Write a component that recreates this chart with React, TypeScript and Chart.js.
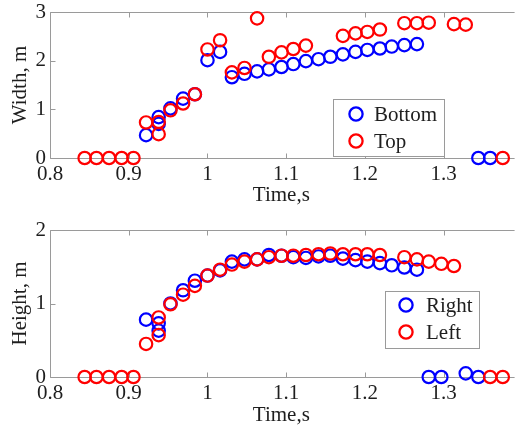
import React, { useEffect, useRef } from "react";
import { Chart, registerables } from "chart.js";
Chart.register(...registerables);

// ---------- data ----------
const xTicks = [0.8, 0.9, 1, 1.1, 1.2, 1.3];
const widthTicks = [0, 1, 2, 3];
const heightTicks = [0, 1, 2];

// Width chart: "Bottom" (blue)
const widthBottomT = [0.922, 0.938, 0.938, 0.953, 0.969, 0.984, 1.0, 1.016, 1.031, 1.047, 1.063, 1.078, 1.094, 1.109, 1.125, 1.141, 1.156, 1.172, 1.188, 1.203, 1.219, 1.234, 1.25, 1.266, 1.344, 1.359];
const widthBottomV = [0.47, 0.84, 0.70, 1.02, 1.22, 1.31, 2.01, 2.18, 1.66, 1.73, 1.78, 1.82, 1.87, 1.93, 1.99, 2.03, 2.08, 2.13, 2.18, 2.22, 2.25, 2.29, 2.32, 2.34, 0, 0];
// Width chart: "Top" (red)
const widthTopT = [0.844, 0.859, 0.875, 0.891, 0.906, 0.922, 0.938, 0.938, 0.953, 0.969, 0.984, 1.0, 1.016, 1.031, 1.047, 1.063, 1.078, 1.094, 1.109, 1.125, 1.172, 1.188, 1.203, 1.219, 1.25, 1.266, 1.281, 1.313, 1.328, 1.375];
const widthTopV = [0, 0, 0, 0, 0, 0.73, 0.74, 0.49, 0.98, 1.12, 1.31, 2.23, 2.42, 1.76, 1.85, 2.87, 2.08, 2.17, 2.24, 2.31, 2.51, 2.56, 2.59, 2.64, 2.77, 2.77, 2.78, 2.75, 2.74, 0];

// Height chart: "Right" (blue)
const heightRightT = [0.922, 0.938, 0.938, 0.953, 0.969, 0.984, 1.0, 1.016, 1.031, 1.047, 1.063, 1.078, 1.094, 1.109, 1.125, 1.141, 1.156, 1.172, 1.188, 1.203, 1.219, 1.234, 1.25, 1.266, 1.281, 1.297, 1.328, 1.344];
const heightRightV = [0.78, 0.73, 0.63, 1.0, 1.18, 1.31, 1.38, 1.45, 1.57, 1.6, 1.6, 1.66, 1.65, 1.63, 1.62, 1.64, 1.65, 1.61, 1.59, 1.57, 1.55, 1.52, 1.49, 1.46, 0, 0, 0.05, 0];
// Height chart: "Left" (red)
const heightLeftT = [0.844, 0.859, 0.875, 0.891, 0.906, 0.922, 0.938, 0.938, 0.953, 0.969, 0.984, 1.0, 1.016, 1.031, 1.047, 1.063, 1.078, 1.094, 1.109, 1.125, 1.141, 1.156, 1.172, 1.188, 1.203, 1.219, 1.25, 1.266, 1.281, 1.297, 1.313, 1.359, 1.375];
const heightLeftV = [0, 0, 0, 0, 0, 0.45, 0.81, 0.57, 0.99, 1.12, 1.24, 1.38, 1.46, 1.53, 1.57, 1.6, 1.63, 1.65, 1.65, 1.66, 1.67, 1.68, 1.67, 1.67, 1.67, 1.66, 1.63, 1.6, 1.57, 1.54, 1.51, 0, 0];

// ---------- styling ----------
const FONT = '"Liberation Serif", "Times New Roman", serif';
const AXIS = "#9a9a9a";
const TEXT = "#1e1e1e";
const BLUE = "#0000ff";
const RED = "#ff0000";
const FS = 21;

const pts = (t: number[], v: number[]) => t.map((x, i) => ({ x, y: v[i] }));

const framePlugin = {
  id: "frame",
  beforeDatasetsDraw(chart: any) {
    const { ctx, chartArea: a, scales } = chart;
    ctx.save();
    ctx.strokeStyle = AXIS;
    ctx.lineWidth = 1;
    const L = Math.round(a.left) + 0.5;
    const T = Math.round(a.top) + 0.5;
    const B = Math.round(a.bottom) + 0.5;
    const R = a.right + 2;
    ctx.beginPath();
    ctx.moveTo(R, T);
    ctx.lineTo(L, T);
    ctx.lineTo(L, B);
    ctx.lineTo(R, B);
    for (const t of scales.x.ticks) {
      const px = Math.round(scales.x.getPixelForValue(t.value)) + 0.5;
      ctx.moveTo(px, B);
      ctx.lineTo(px, B - 5);
      ctx.moveTo(px, T);
      ctx.lineTo(px, T + 5);
    }
    for (const t of scales.y.ticks) {
      const py = Math.round(scales.y.getPixelForValue(t.value)) + 0.5;
      ctx.moveTo(L, py);
      ctx.lineTo(L + 5, py);
    }
    ctx.stroke();
    ctx.restore();
  },
  afterDraw(chart: any, _args: any, opts: any) {
    const box = opts && opts.box;
    if (!box) return;
    const { ctx } = chart;
    ctx.save();
    ctx.fillStyle = "#ffffff";
    ctx.fillRect(box.x, box.y, box.w, box.h);
    ctx.strokeStyle = AXIS;
    ctx.lineWidth = 1;
    ctx.strokeRect(box.x + 0.5, box.y + 0.5, box.w, box.h);
    chart.data.datasets.forEach((ds: any, i: number) => {
      const cy = box.y + box.rowTop + i * box.rowGap;
      ctx.beginPath();
      ctx.strokeStyle = ds.borderColor;
      ctx.lineWidth = 2.3;
      ctx.arc(box.x + box.markX, cy, 6.6, 0, Math.PI * 2);
      ctx.stroke();
      ctx.fillStyle = TEXT;
      ctx.font = `${FS}px ${FONT}`;
      ctx.textBaseline = "middle";
      ctx.textAlign = "left";
      ctx.fillText(ds.label, box.x + box.textX, cy + 1);
    });
    ctx.restore();
  },
};

function makeConfig(opts: {
  blue: { label: string; t: number[]; v: number[] };
  red: { label: string; t: number[]; v: number[] };
  yTicks: number[];
  yMax: number;
  yTitle: string;
  padTop: number;
  xAxisH: number;
  xTitlePad: number;
  box: any;
}) {
  const ds = (s: { label: string; t: number[]; v: number[] }, color: string, order: number) => ({
    label: s.label,
    data: pts(s.t, s.v),
    borderColor: color,
    backgroundColor: "rgba(0,0,0,0)",
    pointRadius: 6.2,
    pointBorderWidth: 2.2,
    pointHoverRadius: 6.2,
    showLine: false,
    clip: false as any,
    order,
  });
  return {
    type: "scatter" as const,
    data: {
      datasets: [ds(opts.blue, BLUE, 2), ds(opts.red, RED, 1)],
    },
    options: {
      responsive: false,
      animation: false as const,
      events: [] as any[],
      layout: { padding: { left: 0, top: opts.padTop, right: 1, bottom: 0 } },
      plugins: {
        legend: { display: false },
        tooltip: { enabled: false },
        frame: { box: opts.box },
      },
      scales: {
        x: {
          type: "linear" as const,
          min: 0.8,
          max: 1.3875,
          afterBuildTicks: (s: any) => {
            s.ticks = xTicks.map((v) => ({ value: v }));
          },
          afterFit: (s: any) => {
            s.height = opts.xAxisH;
            s.paddingLeft = 0;
            s.paddingRight = 0;
          },
          grid: { display: false, drawTicks: false },
          border: { display: false },
          ticks: {
            callback: (v: any) => String(Math.round(Number(v) * 100) / 100),
            font: { family: FONT, size: FS },
            color: TEXT,
            padding: 4,
            maxRotation: 0,
            autoSkip: false,
          },
          title: {
            display: true,
            text: "Time,s",
            font: { family: FONT, size: FS },
            color: TEXT,
            padding: { top: 0, bottom: opts.xTitlePad },
          },
        },
        y: {
          type: "linear" as const,
          min: 0,
          max: opts.yMax,
          afterBuildTicks: (s: any) => {
            s.ticks = opts.yTicks.map((v) => ({ value: v }));
          },
          afterFit: (s: any) => {
            s.width = 50;
            s.paddingTop = 0;
            s.paddingBottom = 0;
          },
          grid: { display: false, drawTicks: false },
          border: { display: false },
          ticks: {
            callback: (v: any) => String(v),
            font: { family: FONT, size: FS },
            color: TEXT,
            padding: 4,
          },
          title: {
            display: true,
            text: opts.yTitle,
            font: { family: FONT, size: FS },
            color: TEXT,
            padding: { top: 8, bottom: 0 },
          },
        },
      },
    },
    plugins: [framePlugin],
  };
}

function ChartCanvas({ config, width, height, top }: { config: any; width: number; height: number; top: number }) {
  const ref = useRef<HTMLCanvasElement | null>(null);
  useEffect(() => {
    if (!ref.current) return;
    const chart = new Chart(ref.current, config);
    return () => chart.destroy();
  }, [config]);
  return (
    <canvas
      ref={ref}
      width={width}
      height={height}
      style={{ position: "absolute", left: 0, top, width, height }}
    />
  );
}

const topConfig = makeConfig({
  blue: { label: "Bottom", t: widthBottomT, v: widthBottomV },
  red: { label: "Top", t: widthTopT, v: widthTopV },
  yTicks: widthTicks,
  yMax: 3,
  yTitle: "Width, m",
  padTop: 12,
  xAxisH: 52,
  xTitlePad: 2,
  box: { x: 333, y: 99, w: 111, h: 57, markX: 23, textX: 41, rowTop: 15, rowGap: 27 },
});

const bottomConfig = makeConfig({
  blue: { label: "Right", t: heightRightT, v: heightRightV },
  red: { label: "Left", t: heightLeftT, v: heightLeftV },
  yTicks: heightTicks,
  yMax: 2,
  yTitle: "Height, m",
  padTop: 20,
  xAxisH: 51,
  xTitlePad: 0,
  box: { x: 385, y: 81, w: 94, h: 57, markX: 21, textX: 41, rowTop: 14, rowGap: 27 },
});

export default function App() {
  return (
    <div
      style={{
        position: "fixed",
        left: 0,
        top: 0,
        width: 521,
        height: 428,
        background: "#ffffff",
        overflow: "hidden",
      }}
    >
      <ChartCanvas config={topConfig} width={521} height={210} top={0} />
      <ChartCanvas config={bottomConfig} width={521} height={218} top={210} />
    </div>
  );
}
